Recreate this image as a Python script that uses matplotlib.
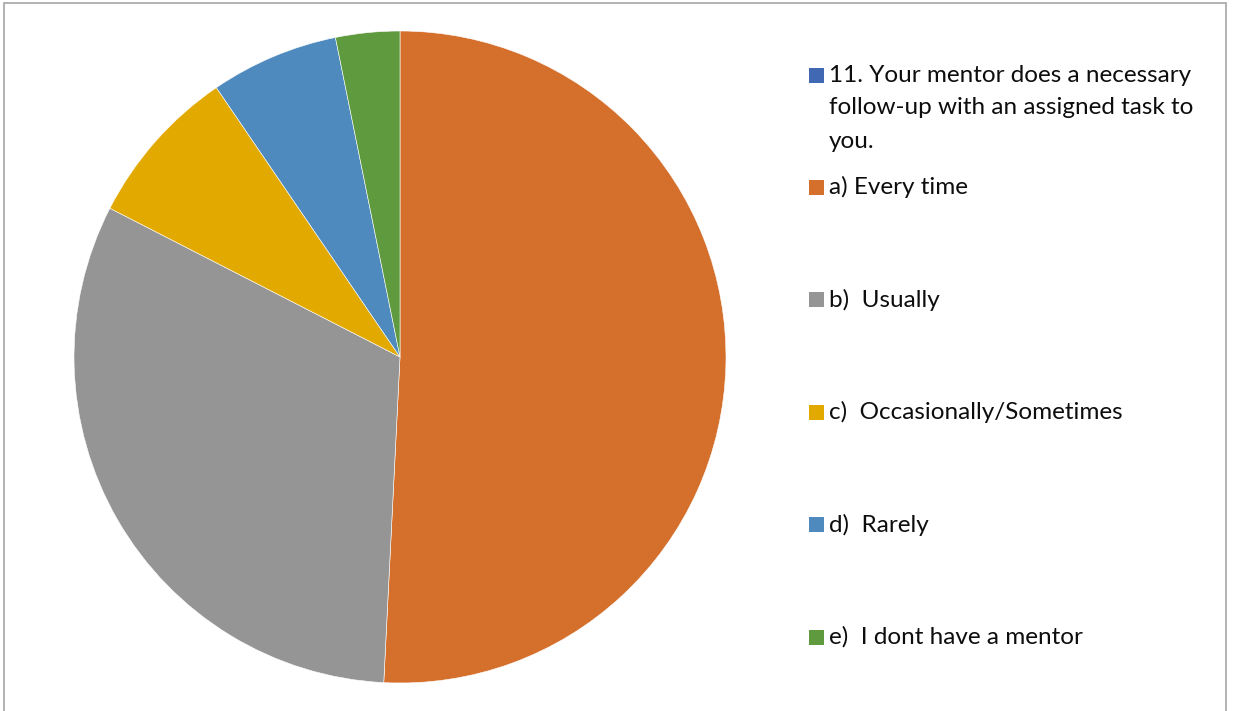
import matplotlib.pyplot as plt
from matplotlib.patches import Rectangle

plt.rcParams["font.family"] = ["Lato", "DejaVu Sans"]

series_title = "11. Your mentor does a necessary\nfollow-up with an assigned task to\nyou."
categories = [
    "a) Every time",
    "b)  Usually",
    "c)  Occasionally/Sometimes",
    "d)  Rarely",
    "e)  I dont have a mentor",
]
counts = [32, 20, 5, 4, 2]
colors = ["#D46F2C", "#959595", "#E2A900", "#4E8ABE", "#5F9A3F"]
title_color = "#4169B3"

W, H = 1235, 711
fig = plt.figure(figsize=(W / 100, H / 100), dpi=100)

# chart frame
fig.patches.append(
    Rectangle((4 / W, -0.01), 1222 / W, 1 - 3 / H + 0.01, transform=fig.transFigure,
              fill=False, edgecolor="#A6A6A6", linewidth=1.2)
)

ax = fig.add_axes([74 / W, 28 / H, 652 / W, 652 / H])
ax.pie(counts, colors=colors, startangle=90, counterclock=False,
       wedgeprops=dict(edgecolor="white", linewidth=0.4))
ax.set_xlim(-1, 1)
ax.set_ylim(-1, 1)
ax.set_aspect("equal")
ax.axis("off")

# legend, drawn entry by entry (square on the first text line)
legend_items = [(series_title, title_color)] + list(zip(categories, colors))
step = 112.4
for i, (label, col) in enumerate(legend_items):
    y = 75 + i * step
    fig.patches.append(
        Rectangle((809 / W, 1 - (y + 7.5) / H), 15 / W, 15 / H,
                  transform=fig.transFigure, facecolor=col, edgecolor="none")
    )
    for j, line in enumerate(label.split("\n")):
        fig.text(829 / W, 1 - (y + j * 33) / H, line, ha="left", va="center",
                 fontsize=17.5, color="#0D0D0D")

fig.savefig("out.png", dpi=100)
